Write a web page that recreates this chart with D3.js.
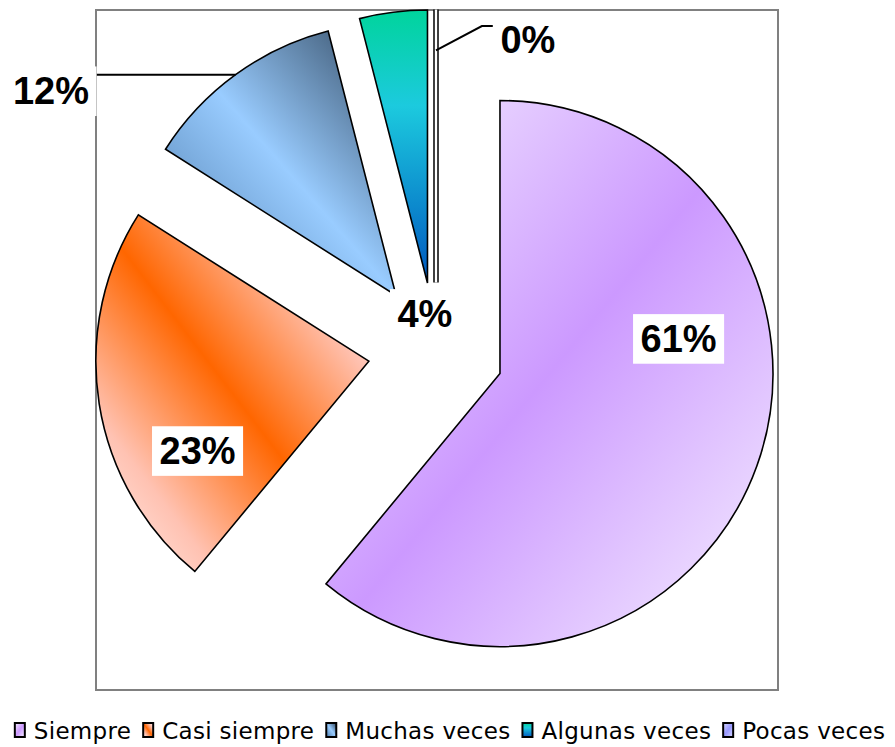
<!DOCTYPE html>
<html>
<head>
<meta charset="utf-8">
<script src="https://cdn.jsdelivr.net/npm/d3@7"></script>
<style>
  html, body { margin: 0; padding: 0; background: #ffffff; }
  svg { display: block; }
</style>
</head>
<body>
<svg id="chart" width="895" height="747"></svg>
<script>
// ---- data ----
const categories = ["Siempre", "Casi siempre", "Muchas veces", "Algunas veces", "Pocas veces"];
const values = [61, 23, 12, 4, 0];
const labels = values.map(v => v + "%");

// ---- styling / layout ----
const gradients = [
  { id: "gSiempre", x1: 0, y1: 0, x2: 1, y2: 1, stops: [[0, "#f6f0ff"], [0.5, "#cc99ff"], [1, "#f6f0ff"]] },
  { id: "gCasi", x1: 0, y1: 1, x2: 1, y2: 0, stops: [[0, "#fff2f0"], [0.22, "#ffc2b2"], [0.5, "#ff6600"], [0.78, "#ffc2b2"], [1, "#fff2f0"]] },
  { id: "gMuchas", x1: 0, y1: 1, x2: 1, y2: 0, stops: [[0, "#4a78a8"], [0.5, "#99ccff"], [1, "#2f455c"]] },
  { id: "gAlgunas", x1: 0, y1: 0, x2: 0, y2: 1, stops: [[0, "#00d49c"], [0.35, "#1ccade"], [1, "#0058c0"]] },
  { id: "gPocas", x1: 0, y1: 0, x2: 1, y2: 1, stops: [[0, "#d8d8ff"], [0.5, "#9999ff"], [1, "#d8d8ff"]] }
];
const center = { x: 436, y: 350.5 };
const radius = 273;
const explode = 68;
// label anchor (text baseline centre) in polar coords from each exploded slice centre
const labelPolar = [
  { a: 83.1, r: 0.659 },
  { a: 239.0, r: 0.732 },
  { a: 299.0, r: 1.445 },
  { a: 183.3, r: 0.161 },
  { a: 21.8, r: 0.906 }
];
const leaders = [null, null, { type: "h", r: 1 }, null, { type: "elbow", r: 0.85 }];

const svg = d3.select("#chart");
const defs = svg.append("defs");
gradients.forEach(g => {
  const lg = defs.append("linearGradient").attr("id", g.id)
    .attr("x1", g.x1).attr("y1", g.y1).attr("x2", g.x2).attr("y2", g.y2);
  g.stops.forEach(s => lg.append("stop").attr("offset", s[0]).attr("stop-color", s[1]));
});

// plot area border
svg.append("rect")
  .attr("x", 96).attr("y", 10).attr("width", 682).attr("height", 680)
  .attr("fill", "none").attr("stroke", "#808080").attr("stroke-width", 2);

const pie = d3.pie().sort(null).value(d => d)(values);
const arc = d3.arc().innerRadius(0).outerRadius(radius);

const polar = (cx, cy, angDeg, r) => {
  const a = angDeg * Math.PI / 180;
  return [cx + r * Math.sin(a), cy - r * Math.cos(a)];
};

const slices = pie.map((p, i) => {
  const mid = (p.startAngle + p.endAngle) / 2;
  const cx = center.x + explode * Math.sin(mid);
  const cy = center.y - explode * Math.cos(mid);
  return { p, i, mid, cx, cy };
});

const gSlices = svg.append("g");
slices.forEach(s => {
  const g = gSlices.append("g").attr("transform", `translate(${s.cx},${s.cy})`);
  if (s.p.endAngle - s.p.startAngle > 1e-6) {
    g.append("path").attr("d", arc(s.p))
      .attr("fill", `url(#${gradients[s.i].id})`)
      .attr("stroke", "#000").attr("stroke-width", 1.6).attr("stroke-linejoin", "miter");
  } else {
    const path = arc(s.p);
    g.append("path").attr("d", path).attr("fill", "none")
      .attr("stroke", "#000").attr("stroke-width", 5.5);
    g.append("path").attr("d", path).attr("fill", "none")
      .attr("stroke", "#fff").attr("stroke-width", 2.5);
  }
});

// labels
const gLab = svg.append("g");
const padX = 7.5, padY = 3.8;
slices.forEach(s => {
  const lp = labelPolar[s.i];
  const [tx, ty] = polar(s.cx, s.cy, lp.a, lp.r * radius);
  const grp = gLab.append("g");
  const rect = grp.append("rect").attr("fill", "#fff");
  const t = grp.append("text")
    .attr("x", tx).attr("y", ty)
    .attr("text-anchor", "middle")
    .attr("font-family", "'Liberation Sans', Arial, sans-serif")
    .attr("font-weight", "bold")
    .attr("font-size", 38)
    .attr("fill", "#000")
    .text(labels[s.i]);
  const bb = t.node().getBBox();
  const box = { x: bb.x - padX, y: bb.y - padY, w: bb.width + 2 * padX, h: bb.height + 2 * padY };
  rect.attr("x", box.x).attr("y", box.y).attr("width", box.w).attr("height", box.h);

  const ld = leaders[s.i];
  if (ld) {
    const [sx, sy] = polar(s.cx, s.cy, s.mid * 180 / Math.PI, ld.r * radius);
    let pts;
    if (ld.type === "h") {
      pts = [[sx, sy], [box.x + box.w, sy]];
    } else {
      const ey = box.y + 11;
      pts = [[sx, sy], [box.x - 11, ey], [box.x, ey]];
    }
    svg.insert("path", () => gLab.node())
      .attr("d", d3.line()(pts))
      .attr("fill", "none").attr("stroke", "#000").attr("stroke-width", 2);
  }
});

// legend
const legFont = 23, sqW = 12, gapSq = 8, gapItem = 11;
const gLeg = svg.append("g");
const items = categories.map((c, i) => {
  const g = gLeg.append("g");
  g.append("rect").attr("width", sqW - 2).attr("height", 14)
    .attr("x", 1).attr("y", -16)
    .attr("fill", `url(#${gradients[i].id})`)
    .attr("stroke", "#000").attr("stroke-width", 2);
  const t = g.append("text").attr("x", sqW + gapSq).attr("y", 0)
    .attr("font-family", "'DejaVu Sans', Verdana, sans-serif")
    .attr("letter-spacing", 0.3)
    .attr("font-size", legFont).attr("fill", "#000").text(c);
  const w = sqW + gapSq + t.node().getComputedTextLength();
  return { g, w };
});
const total = d3.sum(items, d => d.w) + gapItem * (items.length - 1);
let x = 449.5 - total / 2;
items.forEach(it => {
  it.g.attr("transform", `translate(${x},739)`);
  x += it.w + gapItem;
});
</script>
</body>
</html>
